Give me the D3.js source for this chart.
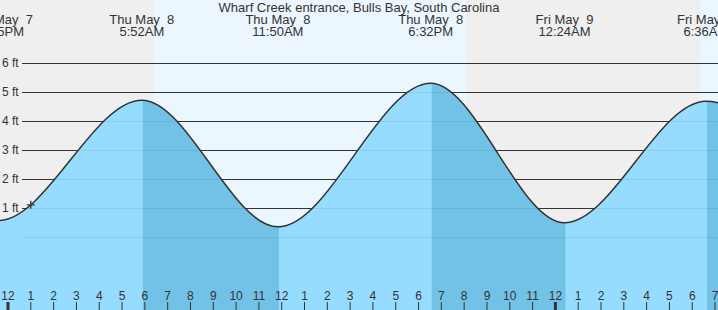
<!DOCTYPE html>
<html><head><meta charset="utf-8">
<script src="https://cdn.jsdelivr.net/npm/d3@7"></script>
<style>body{margin:0;background:#fff}svg{display:block;font-family:"Liberation Sans",Arial,sans-serif}text{white-space:pre}</style>
</head><body>
<svg id="c" width="718" height="310"></svg>
<script>
// Data: hours measured from Thu May 8 00:00
const title = "Wharf Creek entrance, Bulls Bay, South Carolina";
const extremeHours   = [-6.3, -0.42, 5.867, 11.833, 18.533, 24.4, 30.6, 36.7];
const extremeHeights = [4.8, 0.58, 4.73, 0.36, 5.31, 0.50, 4.69, 0.4];
const labelDays  = ["Wed May  7", "Thu May  8", "Thu May  8", "Thu May  8", "Fri May  9", "Fri May  9"];
const labelTimes = ["11:35PM", "5:52AM", "11:50AM", "6:32PM", "12:24AM", "6:36AM"];
const labelHours = [-0.42, 5.867, 11.833, 18.533, 24.4, 30.6];
const dayStarts = [6.42, 30.35];
const dayEnds   = [20.11, 40];
const yTicks = [0, 1, 2, 3, 4, 5, 6];
const hourTicks = d3.range(0, 32);
const markerHour = 1.0;

const W = 718, H = 310;
const svg = d3.select("#c");
const x = d3.scaleLinear().domain([0, 24]).range([8, 555.4]);
const y = d3.scaleLinear().domain([0, 6]).range([237.3, 63.3]);

svg.append("rect").attr("x",0).attr("y",0).attr("width",W).attr("height",H).attr("fill","#efefef");
svg.selectAll("rect.day").data(dayStarts).enter().append("rect").attr("class","day")
  .attr("x", d => x(d)).attr("y", 0)
  .attr("width", (d,i) => Math.min(W, x(dayEnds[i])) - x(d)).attr("height", H)
  .attr("fill", "#ecf6fe");

svg.selectAll("line.grid").data(yTicks).enter().append("line").attr("class","grid")
  .attr("x1", 22).attr("x2", W).attr("y1", d => Math.round(y(d))+0.5).attr("y2", d => Math.round(y(d))+0.5)
  .attr("stroke", "#333").attr("stroke-width", 1);

svg.selectAll("text.yl").data(yTicks).enter().append("text").attr("class","yl")
  .attr("x", 2).attr("y", d => y(d) + 4).attr("font-size", 12).attr("fill", "#333")
  .text(d => d + " ft");

const pts = extremeHours.map((h,i) => [h, extremeHeights[i]]);
const area = d3.area().x(d => x(d[0])).y0(H).y1(d => y(d[1])).curve(d3.curveMonotoneX);
const line = d3.line().x(d => x(d[0])).y(d => y(d[1])).curve(d3.curveMonotoneX);

svg.append("clipPath").attr("id","wclip").append("path").attr("d", area(pts));
svg.append("path").attr("d", area(pts)).attr("fill", "#96dcfe");

const falls = [];
for (let i = 0; i < pts.length - 1; i++) if (extremeHeights[i] > extremeHeights[i+1]) falls.push([extremeHours[i], extremeHours[i+1]]);
svg.append("g").attr("clip-path","url(#wclip)").selectAll("rect").data(falls).enter().append("rect")
  .attr("x", d => x(d[0]) + 1).attr("y", 0).attr("width", d => x(d[1]) - x(d[0])).attr("height", H)
  .attr("fill", "#72c1e6");

svg.append("g").attr("clip-path","url(#wclip)").selectAll("line").data(yTicks).enter().append("line")
  .attr("x1", 22).attr("x2", W).attr("y1", d => Math.round(y(d))+0.5).attr("y2", d => Math.round(y(d))+0.5)
  .attr("stroke", "#000").attr("stroke-opacity", 0.07);

svg.append("path").attr("d", line(pts)).attr("fill","none").attr("stroke","#333").attr("stroke-width",1.5);

const mpath = svg.append("path").attr("d", line(pts)).attr("fill","none").attr("stroke","none").node();
const mx = x(markerHour);
let lo = 0, hi = mpath.getTotalLength();
for (let k = 0; k < 40; k++) { const mid = (lo+hi)/2; if (mpath.getPointAtLength(mid).x < mx) lo = mid; else hi = mid; }
const my = mpath.getPointAtLength(lo).y;
svg.append("path").attr("d", `M${mx-4},${my}H${mx+4}M${mx},${my-4}V${my+4}`).attr("stroke","#333").attr("stroke-width",1.3);

svg.selectAll("line.xt").data(hourTicks).enter().append("line").attr("class","xt")
  .attr("x1", d => x(d)).attr("x2", d => x(d)).attr("y1", 302).attr("y2", H)
  .attr("stroke", "#333").attr("stroke-width", d => d % 24 === 0 ? 3 : 1);
svg.selectAll("text.xl").data(hourTicks).enter().append("text").attr("class","xl")
  .attr("x", d => x(d)).attr("y", 300).attr("text-anchor","middle").attr("font-size", 12).attr("fill","#333")
  .text(d => (d % 12 === 0 ? 12 : d % 12));

svg.append("text").attr("x", 359).attr("y", 12).attr("text-anchor","middle").attr("font-size", 13).attr("fill","#333").text(title);

const lg = svg.selectAll("g.lab").data(labelHours).enter().append("g").attr("class","lab");
lg.append("text").attr("x", d => x(d)).attr("y", 24).attr("text-anchor","middle").attr("font-size", 13).attr("fill","#333").text((d,i) => labelDays[i]);
lg.append("text").attr("x", d => x(d)).attr("y", 36).attr("text-anchor","middle").attr("font-size", 13).attr("fill","#333").text((d,i) => labelTimes[i]);
</script>
</body></html>
